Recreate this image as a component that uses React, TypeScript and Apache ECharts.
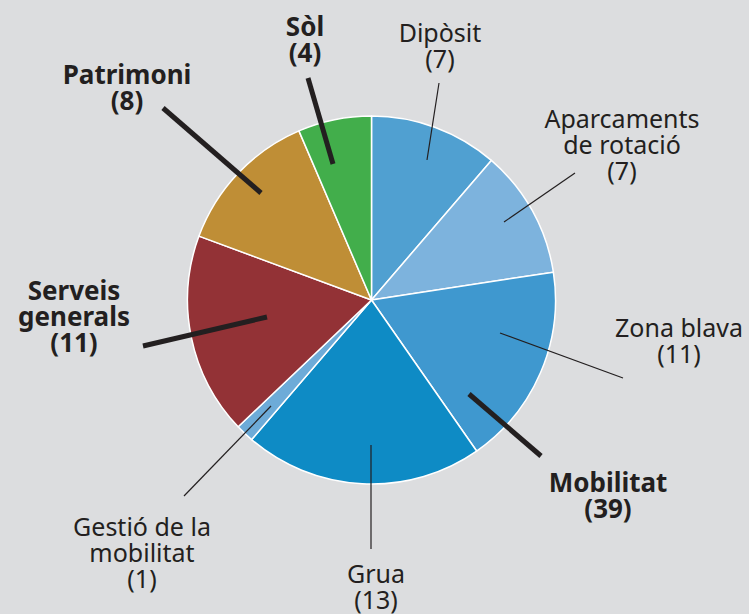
import React, { useEffect, useRef } from 'react';
import * as echarts from 'echarts';

// ---- data ----
const groupNames = ['Mobilitat', 'Serveis generals', 'Patrimoni', 'Sòl'];
const groupValues = [39, 11, 8, 4];
const mobilitatNames = ['Dipòsit', 'Aparcaments de rotació', 'Zona blava', 'Grua', 'Gestió de la mobilitat'];
const mobilitatValues = [7, 7, 11, 13, 1];

// ---- presentation ----
const displayNames: Record<string, string> = {
  'Aparcaments de rotació': 'Aparcaments\nde rotació',
  'Gestió de la mobilitat': 'Gestió de la\nmobilitat',
  'Serveis generals': 'Serveis\ngenerals',
};
const mobilitatColors = ['#50a0d1', '#7db3dd', '#3f98cf', '#0e8bc5', '#6dabd8'];
const groupColors = ['', '#933236', '#bf8e36', '#42ae4b'];

// label anchors (centre x, top y) and leader lines
const detailLayout = [
  { x: 440, y: 19, line: [[427, 160], [439, 83]] },
  { x: 622, y: 105, line: [[504, 222], [575, 173]] },
  { x: 679, y: 314, line: [[500, 333], [623, 378]] },
  { x: 376, y: 560, line: [[371, 445], [371, 549]] },
  { x: 142, y: 513, line: [[271, 406], [184, 496]] },
];
const groupLayout = [
  { x: 608, y: 469, line: [[469, 394], [541, 456]] },
  { x: 74, y: 277, line: [[267, 317], [143, 346]] },
  { x: 127, y: 61, line: [[261, 193], [163, 108]] },
  { x: 305, y: 13, line: [[333, 164], [308, 78]] },
];

const TEXT = '#231f20';
const FONT = 'Noto Sans';
const CENTER = [371.5, 300];
const RADIUS = 184;

export default function App() {
  const ref = useRef<HTMLDivElement>(null);
  useEffect(() => {
    if (!ref.current) return;
    const chart = echarts.init(ref.current, null, { renderer: 'svg' });

    const detailNames = mobilitatNames.concat(groupNames.slice(1));
    const detailValues = mobilitatValues.concat(groupValues.slice(1));
    const detailColors = mobilitatColors.concat(groupColors.slice(1));

    const sliceData = detailNames.map((n, i) => ({
      name: n,
      value: detailValues[i],
      itemStyle: { color: detailColors[i] },
    }));
    const detailLabelData = detailNames.map((n, i) => ({
      name: n,
      value: detailValues[i],
      label: { show: i < mobilitatNames.length },
      labelLine: { show: i < mobilitatNames.length },
    }));
    const groupData = groupNames.map((n, i) => ({ name: n, value: groupValues[i] }));

    const fmt = (p: any) => `${displayNames[p.name] ?? p.name}\n(${p.value})`;
    const base = {
      type: 'pie',
      center: CENTER,
      radius: RADIUS,
      startAngle: 90,
      clockwise: true,
      avoidLabelOverlap: false,
      silent: true,
    };

    chart.setOption({
      animation: false,
      backgroundColor: '#dcdddf',
      series: [
        {
          ...base,
          z: 2,
          data: sliceData,
          itemStyle: { borderColor: '#ffffff', borderWidth: 1.5 },
          label: { show: false },
          labelLine: { show: false },
        },
        {
          ...base,
          z: 5,
          data: detailLabelData,
          itemStyle: { color: 'rgba(0,0,0,0)', borderWidth: 0 },
          label: {
            show: true,
            position: 'outside',
            formatter: fmt,
            fontFamily: FONT,
            fontSize: 25,
            lineHeight: 26,
            color: TEXT,
          },
          labelLine: { show: true, smooth: false, lineStyle: { color: TEXT, width: 1.2 } },
          labelLayout: (params: any) => {
            const l = detailLayout[params.dataIndex];
            if (!l) return {};
            return { x: l.x, y: l.y, align: 'center', verticalAlign: 'top', labelLinePoints: l.line };
          },
        },
        {
          ...base,
          z: 6,
          data: groupData,
          itemStyle: { color: 'rgba(0,0,0,0)', borderWidth: 0 },
          label: {
            show: true,
            position: 'outside',
            formatter: fmt,
            fontFamily: FONT,
            fontSize: 26,
            fontWeight: 'bold',
            lineHeight: 26,
            color: TEXT,
          },
          labelLine: { show: true, smooth: false, lineStyle: { color: TEXT, width: 5 } },
          labelLayout: (params: any) => {
            const l = groupLayout[params.dataIndex];
            if (!l) return {};
            return { x: l.x, y: l.y, align: 'center', verticalAlign: 'top', labelLinePoints: l.line };
          },
        },
      ],
    });
    return () => chart.dispose();
  }, []);
  return (
    <div
      ref={ref}
      style={{ position: 'fixed', left: 0, top: 0, width: 749, height: 614, background: '#dcdddf' }}
    />
  );
}
